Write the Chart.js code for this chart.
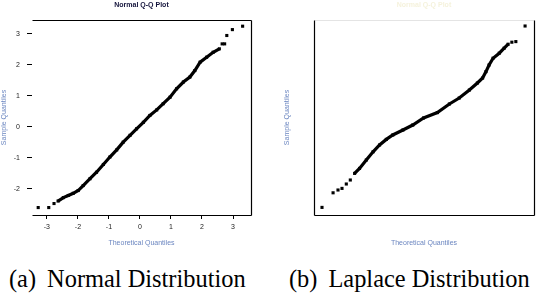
<!DOCTYPE html>
<html lang="en">
<head>
<meta charset="UTF-8">
<title>Q-Q plots: Normal vs Laplace</title>
<script src="https://cdn.jsdelivr.net/npm/chart.js@4.4.1/dist/chart.umd.min.js"></script>
<style>
  body {
    margin: 0;
    background: #fff;
    width: 538px;
    height: 296px;
    position: relative;
    overflow: hidden;
  }
  .panel { position: absolute; top: 0; height: 250px; }
  #leftPanel { left: 0; width: 270px; }
  #rightPanel { left: 270px; width: 268px; }
  .caption {
    position: absolute;
    top: 265px;
    font-family: "Liberation Serif", Tinos, "DejaVu Serif", serif;
    font-size: 24.4px;
    color: #000;
    white-space: nowrap;
  }
  .caption .tag { margin-right: 11px; }
</style>
</head>
<body>
<div class="panel" id="leftPanel"><canvas id="normalChart"></canvas></div>
<div class="panel" id="rightPanel"><canvas id="laplaceChart"></canvas></div>
<div class="caption" id="capA" style="left:9px"><span class="tag">(a)</span>Normal Distribution</div>
<div class="caption" id="capB" style="left:289px"><span class="tag">(b)</span>Laplace Distribution</div>

<script>
// (a) normal sample: theoretical vs sample quantiles
const normalTheo = [-3.28, -2.94, -2.77, -2.64, -2.47, -2.31, -2.15, -1.99, -1.83, -1.61,
  -1.40, -1.18, -0.97, -0.75, -0.54, -0.32, -0.11, 0.11, 0.32, 0.54,
  0.75, 0.97, 1.18, 1.40, 1.61, 1.77, 1.94, 2.15, 2.36, 2.56,
  2.65, 2.73, 2.80, 2.98, 3.31];
const normalSample = [-2.60, -2.60, -2.47, -2.39, -2.28, -2.21, -2.14, -2.05, -1.89, -1.67,
  -1.46, -1.21, -0.97, -0.74, -0.49, -0.27, -0.06, 0.15, 0.37, 0.55,
  0.75, 0.96, 1.23, 1.45, 1.61, 1.82, 2.09, 2.25, 2.41, 2.52,
  2.68, 2.68, 2.95, 3.14, 3.25];

// (b) laplace sample
const laplaceTheo = [-3.29, -2.93, -2.77, -2.64, -2.50, -2.37, -2.23, -2.07, -1.85, -1.63,
  -1.42, -1.20, -0.99, -0.66, -0.34, 0.01, 0.46, 0.85, 1.17, 1.50,
  1.76, 1.93, 2.04, 2.14, 2.27, 2.47, 2.63, 2.76, 2.88, 3.01, 3.31];
const laplaceSample = [-4.47, -3.74, -3.60, -3.52, -3.30, -3.10, -2.77, -2.52, -2.10, -1.69,
  -1.35, -1.07, -0.85, -0.60, -0.35, 0.00, 0.27, 0.70, 1.00, 1.40,
  1.75, 2.00, 2.32, 2.65, 2.99, 3.24, 3.49, 3.69, 3.79, 3.82, 4.60];

const xTicks = [-3, -2, -1, 0, 1, 2, 3];
const yTicks = [-2, -1, 0, 1, 2, 3];

// index range where the points are so dense they merge into a band
const normalBand = [3, 29];
const laplaceBand = [6, 27];

const labelBlue = '#6b86c0';
const smallFont = { family: "'Liberation Sans', Arial, sans-serif", size: 7 };

// box around the plot region, only on the requested sides
const framePlugin = {
  id: 'frame',
  afterDraw(chart, args, opts) {
    const { ctx, chartArea: a } = chart;
    const L = Math.round(a.left) + 0.5, R = Math.round(a.right) + 0.5;
    const T = Math.round(a.top) + 0.5, B = Math.round(a.bottom) + 0.5;
    const lines = { top: [L, T, R, T], right: [R, T, R, B], bottom: [L, B, R, B], left: [L, T, L, B] };
    ctx.save();
    ctx.lineWidth = 1.2;
    for (const side of opts.sides || []) {
      const c = lines[side];
      ctx.strokeStyle = (opts.faint || []).includes(side) ? '#e4e4e4' : '#000';
      ctx.beginPath();
      ctx.moveTo(c[0], c[1]);
      ctx.lineTo(c[2], c[3]);
      ctx.stroke();
    }
    ctx.restore();
  }
};

function qqDataset(theo, sample, band) {
  return {
    data: theo.map((q, i) => ({ x: q, y: sample[i] })),
    showLine: true,
    borderColor: '#000',
    borderWidth: 3.2,
    segment: {
      borderColor: c => (c.p0DataIndex >= band[0] && c.p1DataIndex <= band[1]) ? '#000' : 'transparent'
    },
    pointStyle: 'rect',
    pointRadius: 2.2,
    pointBorderWidth: 0,
    pointBackgroundColor: '#000'
  };
}

// (a) Normal Q-Q
new Chart(document.getElementById('normalChart'), {
  type: 'scatter',
  data: { datasets: [qqDataset(normalTheo, normalSample, normalBand)] },
  options: {
    responsive: true,
    maintainAspectRatio: false,
    animation: false,
    layout: { padding: { left: 0, right: 19, top: 0, bottom: 0 } },
    plugins: {
      legend: { display: false },
      tooltip: { enabled: false },
      title: {
        display: true,
        text: 'Normal Q-Q Plot',
        fullSize: false,
        color: '#14143c',
        font: { family: smallFont.family, size: 7, weight: 'bold' },
        padding: { top: 0.5, bottom: 11.1 }
      },
      frame: { sides: ['top', 'right', 'bottom'] }
    },
    scales: {
      x: {
        type: 'linear',
        min: -3.48,
        max: 3.58,
        afterBuildTicks: s => { s.ticks = xTicks.map(v => ({ value: v })); },
        afterFit: s => { s.height = 35; },
        ticks: { font: smallFont, color: '#222', padding: 4, maxRotation: 0 },
        grid: { drawOnChartArea: false, drawTicks: true, tickLength: 4, color: '#000' },
        border: { display: false },
        title: { display: true, text: 'Theoretical Quantiles', color: labelBlue, font: smallFont, padding: { top: 0, bottom: 3 } }
      },
      y: {
        type: 'linear',
        min: -2.84,
        max: 3.45,
        afterBuildTicks: s => { s.ticks = yTicks.map(v => ({ value: v })); },
        afterFit: s => { s.width = 32; },
        ticks: { font: smallFont, color: '#222', padding: 7 },
        grid: { drawOnChartArea: false, drawTicks: true, tickLength: 5, color: '#000' },
        border: { display: false },
        title: { display: true, text: 'Sample Quantiles', color: labelBlue, font: smallFont, padding: { top: 0, bottom: 0 } }
      }
    }
  },
  plugins: [framePlugin]
});

// (b) Laplace Q-Q (no tick labels in the original)
new Chart(document.getElementById('laplaceChart'), {
  type: 'scatter',
  data: { datasets: [qqDataset(laplaceTheo, laplaceSample, laplaceBand)] },
  options: {
    responsive: true,
    maintainAspectRatio: false,
    animation: false,
    layout: { padding: { left: 0, right: 3, top: 0, bottom: 0 } },
    plugins: {
      legend: { display: false },
      tooltip: { enabled: false },
      title: {
        display: true,
        text: 'Normal Q-Q Plot',
        fullSize: false,
        color: '#f5f2dc',
        font: { family: smallFont.family, size: 7, weight: 'bold' },
        padding: { top: 0.5, bottom: 11.1 }
      },
      frame: { sides: ['top', 'right', 'bottom', 'left'], faint: ['top'] }
    },
    scales: {
      x: {
        type: 'linear',
        min: -3.55,
        max: 3.60,
        afterFit: s => { s.height = 35; },
        ticks: { display: false },
        grid: { display: false },
        border: { display: false },
        title: { display: true, text: 'Theoretical Quantiles', color: labelBlue, font: smallFont, padding: { top: 0, bottom: 3 } }
      },
      y: {
        type: 'linear',
        min: -4.85,
        max: 4.90,
        afterFit: s => { s.width = 44; },
        ticks: { display: false },
        grid: { display: false },
        border: { display: false },
        title: { display: true, text: 'Sample Quantiles', color: labelBlue, font: smallFont, padding: { top: 13, bottom: 0 } }
      }
    }
  },
  plugins: [framePlugin]
});
</script>
</body>
</html>
